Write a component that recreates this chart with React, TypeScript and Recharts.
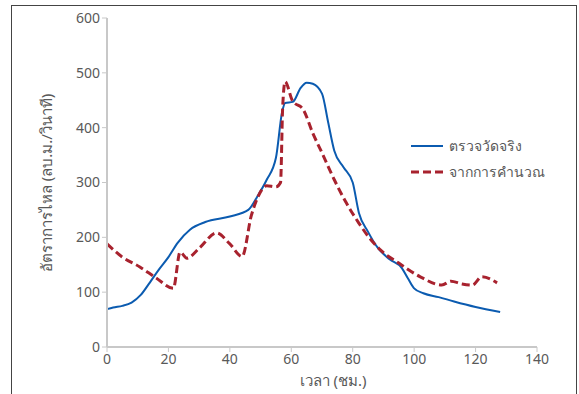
import React from 'react';
import { LineChart, Line, XAxis, YAxis, Legend, Label } from 'recharts';

// measured flow (hours, m3/s)
const measuredHours = [0, 2, 5, 8, 11, 14, 17, 20, 23, 27, 32, 40, 46, 49, 52, 55, 57, 58, 60.5, 63, 65, 67, 70, 72, 74, 77, 80, 82, 85, 88, 92, 96, 98, 100, 103, 108, 113, 120, 128];
const measuredFlow = [69, 72, 75, 81, 95, 118, 142, 164, 190, 214, 228, 238, 250, 275, 305, 345, 428, 445, 447, 472, 482, 480, 462, 410, 358, 328, 300, 245, 210, 182, 160, 144, 125, 107, 98, 91, 83, 73, 64];

// calculated flow
const calcHours = [0, 5, 10.7, 16, 21.6, 23.8, 26, 30, 35.7, 40, 44, 47, 49, 52, 55, 56.5, 57.2, 58, 60.3, 64, 67, 70, 74, 78, 82, 86, 89, 95, 102, 109, 112, 115.6, 119, 122, 127];
const calcFlow = [188, 164, 146, 126, 107, 173, 162, 180, 208, 188, 165, 240, 272, 294, 292, 300, 438, 484, 450, 432, 390, 354, 305, 262, 226, 195, 177, 153, 128, 113, 120, 115, 113, 128, 117];

const xTicks = [0, 20, 40, 60, 80, 100, 120, 140];
const yTicks = [0, 100, 200, 300, 400, 500, 600];

const seriesNames = ['ตรวจวัดจริง', 'จากการคำนวณ'];
const xTitle = 'เวลา (ชม.)';
const yTitle = 'อัตราการไหล (ลบ.ม./วินาที)';

const measured = measuredHours.map((h, i) => ({ h, q: measuredFlow[i] }));
const calculated = calcHours.map((h, i) => ({ h, q: calcFlow[i] }));

const FONT = "'Noto Sans', 'DejaVu Sans', sans-serif";
const TEXT = '#595959';
const BLUE = '#0b5bb0';
const RED = '#a8222e';

const LegendBox = () => (
  <div style={{ fontFamily: FONT, fontSize: 14, color: TEXT }}>
    <div style={{ display: 'flex', alignItems: 'center', height: 26 }}>
      <svg width={38} height={6}>
        <line x1={0} y1={3} x2={32} y2={3} stroke={BLUE} strokeWidth={2} />
      </svg>
      <span>{seriesNames[0]}</span>
    </div>
    <div style={{ display: 'flex', alignItems: 'center', height: 26 }}>
      <svg width={38} height={6}>
        <line x1={0} y1={3} x2={32} y2={3} stroke={RED} strokeWidth={3} strokeDasharray="8 4" />
      </svg>
      <span>{seriesNames[1]}</span>
    </div>
  </div>
);

const App: React.FC = () => {
  return (
    <div style={{ position: 'absolute', left: 0, top: 0, width: 579, height: 394, background: '#fff', overflow: 'hidden' }}>
      <div style={{ position: 'absolute', left: 11, top: 5, width: 566, height: 400, border: '1.5px solid #444', boxSizing: 'border-box' }} />
      <LineChart width={579} height={394} margin={{ top: 18, right: 42, bottom: 17, left: 57 }}>
        <XAxis
          type="number"
          dataKey="h"
          domain={[0, 140]}
          ticks={xTicks}
          height={30}
          axisLine={{ stroke: '#c8c8c8', strokeWidth: 2 }}
          tickLine={{ stroke: '#c8c8c8' }}
          tickSize={5}
          tick={{ fill: TEXT, fontSize: 14, fontFamily: FONT }}
        >
          <Label
            content={() => (
              <text x={333} y={386} textAnchor="middle" fill={TEXT} fontSize={15} fontFamily={FONT}>
                {xTitle}
              </text>
            )}
          />
        </XAxis>
        <YAxis
          type="number"
          domain={[0, 600]}
          ticks={yTicks}
          width={50}
          axisLine={{ stroke: '#c8c8c8', strokeWidth: 2 }}
          tickLine={{ stroke: '#c8c8c8' }}
          tickSize={5}
          tick={{ fill: TEXT, fontSize: 14, fontFamily: FONT }}
        >
          <Label
            content={() => (
              <text x={46} y={183} transform="rotate(-90 46 183)" textAnchor="middle" dominantBaseline="central" fill={TEXT} fontSize={15} fontFamily={FONT}>
                {yTitle}
              </text>
            )}
          />
        </YAxis>
        <Legend
          layout="horizontal"
          verticalAlign="middle"
          align="center"
          wrapperStyle={{ left: 411, top: 133, width: 160 }}
          content={() => <LegendBox />}
        />
        <Line
          data={measured}
          dataKey="q"
          type="monotone"
          stroke={BLUE}
          strokeWidth={2}
          dot={false}
          isAnimationActive={false}
        />
        <Line
          data={calculated}
          dataKey="q"
          type="monotone"
          stroke={RED}
          strokeWidth={3}
          strokeDasharray="8 4"
          dot={false}
          isAnimationActive={false}
        />
      </LineChart>
    </div>
  );
};

export default App;
